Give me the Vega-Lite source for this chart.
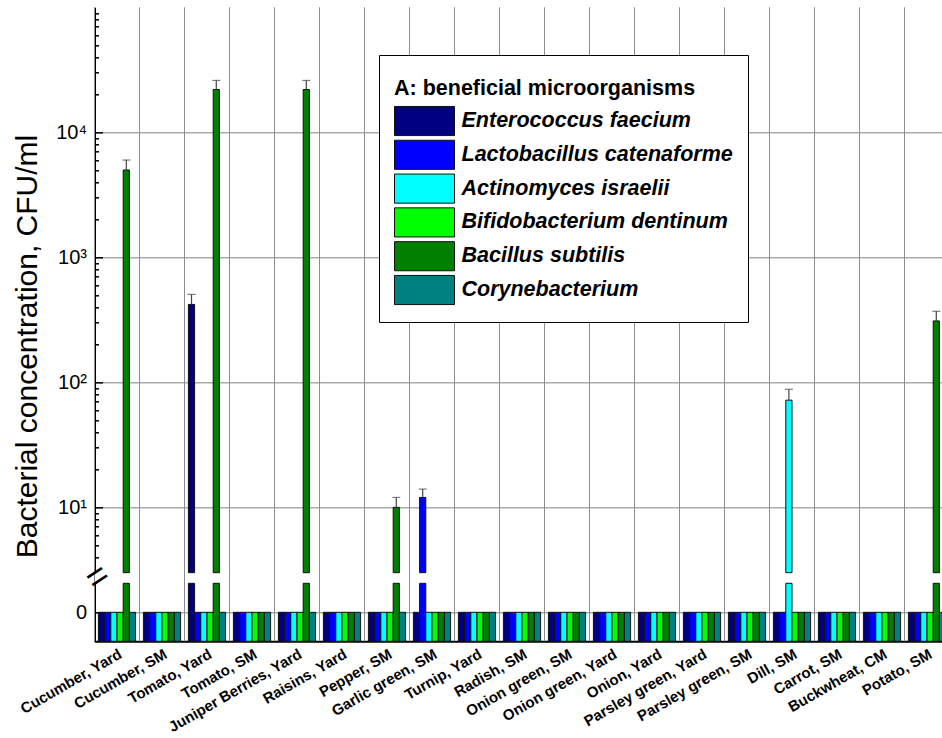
{
  "$schema": "https://vega.github.io/schema/vega-lite/v6.json",
  "width": 847.5,
  "height": 634,
  "autosize": {"type": "none"},
  "padding": {"left": 94.5, "top": 7.3, "right": 0, "bottom": 96.7},
  "background": "white",
  "config": {"view": {"stroke": null}, "font": "Liberation Sans"},
  "datasets": {
    "bars": [
      {"sample": "Cucumber, Yard", "organism": "Enterococcus faecium", "value": 0},
      {"sample": "Cucumber, Yard", "organism": "Lactobacillus catenaforme", "value": 0},
      {"sample": "Cucumber, Yard", "organism": "Actinomyces israelii", "value": 0},
      {"sample": "Cucumber, Yard", "organism": "Bifidobacterium dentinum", "value": 0},
      {"sample": "Cucumber, Yard", "organism": "Bacillus subtilis", "value": 5000, "upper": 6000},
      {"sample": "Cucumber, Yard", "organism": "Corynebacterium", "value": 0},
      {"sample": "Cucumber, SM", "organism": "Enterococcus faecium", "value": 0},
      {"sample": "Cucumber, SM", "organism": "Lactobacillus catenaforme", "value": 0},
      {"sample": "Cucumber, SM", "organism": "Actinomyces israelii", "value": 0},
      {"sample": "Cucumber, SM", "organism": "Bifidobacterium dentinum", "value": 0},
      {"sample": "Cucumber, SM", "organism": "Bacillus subtilis", "value": 0},
      {"sample": "Cucumber, SM", "organism": "Corynebacterium", "value": 0},
      {"sample": "Tomato, Yard", "organism": "Enterococcus faecium", "value": 420, "upper": 505},
      {"sample": "Tomato, Yard", "organism": "Lactobacillus catenaforme", "value": 0},
      {"sample": "Tomato, Yard", "organism": "Actinomyces israelii", "value": 0},
      {"sample": "Tomato, Yard", "organism": "Bifidobacterium dentinum", "value": 0},
      {"sample": "Tomato, Yard", "organism": "Bacillus subtilis", "value": 22000, "upper": 26000},
      {"sample": "Tomato, Yard", "organism": "Corynebacterium", "value": 0},
      {"sample": "Tomato, SM", "organism": "Enterococcus faecium", "value": 0},
      {"sample": "Tomato, SM", "organism": "Lactobacillus catenaforme", "value": 0},
      {"sample": "Tomato, SM", "organism": "Actinomyces israelii", "value": 0},
      {"sample": "Tomato, SM", "organism": "Bifidobacterium dentinum", "value": 0},
      {"sample": "Tomato, SM", "organism": "Bacillus subtilis", "value": 0},
      {"sample": "Tomato, SM", "organism": "Corynebacterium", "value": 0},
      {"sample": "Juniper Berries, Yard", "organism": "Enterococcus faecium", "value": 0},
      {"sample": "Juniper Berries, Yard", "organism": "Lactobacillus catenaforme", "value": 0},
      {"sample": "Juniper Berries, Yard", "organism": "Actinomyces israelii", "value": 0},
      {"sample": "Juniper Berries, Yard", "organism": "Bifidobacterium dentinum", "value": 0},
      {"sample": "Juniper Berries, Yard", "organism": "Bacillus subtilis", "value": 22000, "upper": 26000},
      {"sample": "Juniper Berries, Yard", "organism": "Corynebacterium", "value": 0},
      {"sample": "Raisins, Yard", "organism": "Enterococcus faecium", "value": 0},
      {"sample": "Raisins, Yard", "organism": "Lactobacillus catenaforme", "value": 0},
      {"sample": "Raisins, Yard", "organism": "Actinomyces israelii", "value": 0},
      {"sample": "Raisins, Yard", "organism": "Bifidobacterium dentinum", "value": 0},
      {"sample": "Raisins, Yard", "organism": "Bacillus subtilis", "value": 0},
      {"sample": "Raisins, Yard", "organism": "Corynebacterium", "value": 0},
      {"sample": "Pepper, SM", "organism": "Enterococcus faecium", "value": 0},
      {"sample": "Pepper, SM", "organism": "Lactobacillus catenaforme", "value": 0},
      {"sample": "Pepper, SM", "organism": "Actinomyces israelii", "value": 0},
      {"sample": "Pepper, SM", "organism": "Bifidobacterium dentinum", "value": 0},
      {"sample": "Pepper, SM", "organism": "Bacillus subtilis", "value": 10, "upper": 12},
      {"sample": "Pepper, SM", "organism": "Corynebacterium", "value": 0},
      {"sample": "Garlic green, SM", "organism": "Enterococcus faecium", "value": 0},
      {"sample": "Garlic green, SM", "organism": "Lactobacillus catenaforme", "value": 12, "upper": 14},
      {"sample": "Garlic green, SM", "organism": "Actinomyces israelii", "value": 0},
      {"sample": "Garlic green, SM", "organism": "Bifidobacterium dentinum", "value": 0},
      {"sample": "Garlic green, SM", "organism": "Bacillus subtilis", "value": 0},
      {"sample": "Garlic green, SM", "organism": "Corynebacterium", "value": 0},
      {"sample": "Turnip, Yard", "organism": "Enterococcus faecium", "value": 0},
      {"sample": "Turnip, Yard", "organism": "Lactobacillus catenaforme", "value": 0},
      {"sample": "Turnip, Yard", "organism": "Actinomyces israelii", "value": 0},
      {"sample": "Turnip, Yard", "organism": "Bifidobacterium dentinum", "value": 0},
      {"sample": "Turnip, Yard", "organism": "Bacillus subtilis", "value": 0},
      {"sample": "Turnip, Yard", "organism": "Corynebacterium", "value": 0},
      {"sample": "Radish, SM", "organism": "Enterococcus faecium", "value": 0},
      {"sample": "Radish, SM", "organism": "Lactobacillus catenaforme", "value": 0},
      {"sample": "Radish, SM", "organism": "Actinomyces israelii", "value": 0},
      {"sample": "Radish, SM", "organism": "Bifidobacterium dentinum", "value": 0},
      {"sample": "Radish, SM", "organism": "Bacillus subtilis", "value": 0},
      {"sample": "Radish, SM", "organism": "Corynebacterium", "value": 0},
      {"sample": "Onion green, SM", "organism": "Enterococcus faecium", "value": 0},
      {"sample": "Onion green, SM", "organism": "Lactobacillus catenaforme", "value": 0},
      {"sample": "Onion green, SM", "organism": "Actinomyces israelii", "value": 0},
      {"sample": "Onion green, SM", "organism": "Bifidobacterium dentinum", "value": 0},
      {"sample": "Onion green, SM", "organism": "Bacillus subtilis", "value": 0},
      {"sample": "Onion green, SM", "organism": "Corynebacterium", "value": 0},
      {"sample": "Onion green, Yard", "organism": "Enterococcus faecium", "value": 0},
      {"sample": "Onion green, Yard", "organism": "Lactobacillus catenaforme", "value": 0},
      {"sample": "Onion green, Yard", "organism": "Actinomyces israelii", "value": 0},
      {"sample": "Onion green, Yard", "organism": "Bifidobacterium dentinum", "value": 0},
      {"sample": "Onion green, Yard", "organism": "Bacillus subtilis", "value": 0},
      {"sample": "Onion green, Yard", "organism": "Corynebacterium", "value": 0},
      {"sample": "Onion, Yard", "organism": "Enterococcus faecium", "value": 0},
      {"sample": "Onion, Yard", "organism": "Lactobacillus catenaforme", "value": 0},
      {"sample": "Onion, Yard", "organism": "Actinomyces israelii", "value": 0},
      {"sample": "Onion, Yard", "organism": "Bifidobacterium dentinum", "value": 0},
      {"sample": "Onion, Yard", "organism": "Bacillus subtilis", "value": 0},
      {"sample": "Onion, Yard", "organism": "Corynebacterium", "value": 0},
      {"sample": "Parsley green, Yard", "organism": "Enterococcus faecium", "value": 0},
      {"sample": "Parsley green, Yard", "organism": "Lactobacillus catenaforme", "value": 0},
      {"sample": "Parsley green, Yard", "organism": "Actinomyces israelii", "value": 0},
      {"sample": "Parsley green, Yard", "organism": "Bifidobacterium dentinum", "value": 0},
      {"sample": "Parsley green, Yard", "organism": "Bacillus subtilis", "value": 0},
      {"sample": "Parsley green, Yard", "organism": "Corynebacterium", "value": 0},
      {"sample": "Parsley green, SM", "organism": "Enterococcus faecium", "value": 0},
      {"sample": "Parsley green, SM", "organism": "Lactobacillus catenaforme", "value": 0},
      {"sample": "Parsley green, SM", "organism": "Actinomyces israelii", "value": 0},
      {"sample": "Parsley green, SM", "organism": "Bifidobacterium dentinum", "value": 0},
      {"sample": "Parsley green, SM", "organism": "Bacillus subtilis", "value": 0},
      {"sample": "Parsley green, SM", "organism": "Corynebacterium", "value": 0},
      {"sample": "Dill, SM", "organism": "Enterococcus faecium", "value": 0},
      {"sample": "Dill, SM", "organism": "Lactobacillus catenaforme", "value": 0},
      {"sample": "Dill, SM", "organism": "Actinomyces israelii", "value": 72, "upper": 88},
      {"sample": "Dill, SM", "organism": "Bifidobacterium dentinum", "value": 0},
      {"sample": "Dill, SM", "organism": "Bacillus subtilis", "value": 0},
      {"sample": "Dill, SM", "organism": "Corynebacterium", "value": 0},
      {"sample": "Carrot, SM", "organism": "Enterococcus faecium", "value": 0},
      {"sample": "Carrot, SM", "organism": "Lactobacillus catenaforme", "value": 0},
      {"sample": "Carrot, SM", "organism": "Actinomyces israelii", "value": 0},
      {"sample": "Carrot, SM", "organism": "Bifidobacterium dentinum", "value": 0},
      {"sample": "Carrot, SM", "organism": "Bacillus subtilis", "value": 0},
      {"sample": "Carrot, SM", "organism": "Corynebacterium", "value": 0},
      {"sample": "Buckwheat, CM", "organism": "Enterococcus faecium", "value": 0},
      {"sample": "Buckwheat, CM", "organism": "Lactobacillus catenaforme", "value": 0},
      {"sample": "Buckwheat, CM", "organism": "Actinomyces israelii", "value": 0},
      {"sample": "Buckwheat, CM", "organism": "Bifidobacterium dentinum", "value": 0},
      {"sample": "Buckwheat, CM", "organism": "Bacillus subtilis", "value": 0},
      {"sample": "Buckwheat, CM", "organism": "Corynebacterium", "value": 0},
      {"sample": "Potato, SM", "organism": "Enterococcus faecium", "value": 0},
      {"sample": "Potato, SM", "organism": "Lactobacillus catenaforme", "value": 0},
      {"sample": "Potato, SM", "organism": "Actinomyces israelii", "value": 0},
      {"sample": "Potato, SM", "organism": "Bifidobacterium dentinum", "value": 0},
      {"sample": "Potato, SM", "organism": "Bacillus subtilis", "value": 310, "upper": 370},
      {"sample": "Potato, SM", "organism": "Corynebacterium", "value": 0}
    ]
  },
  "data": {"name": "bars"},
  "layer": [
    {
      "transform": [{"filter": "datum.organism == 'Enterococcus faecium'"}],
      "mark": {"type": "rule", "color": "#8c8c8c", "strokeWidth": 1},
      "encoding": {
        "x": {
          "field": "sample", "type": "nominal", "bandPosition": 0,
          "scale": {"domain": ["Cucumber, Yard","Cucumber, SM","Tomato, Yard","Tomato, SM","Juniper Berries, Yard","Raisins, Yard","Pepper, SM","Garlic green, SM","Turnip, Yard","Radish, SM","Onion green, SM","Onion green, Yard","Onion, Yard","Parsley green, Yard","Parsley green, SM","Dill, SM","Carrot, SM","Buckwheat, CM","Potato, SM"], "range": [0, 855], "paddingInner": 0, "paddingOuter": 0},
          "axis": {"orient": "bottom", "grid": false, "ticks": false, "domainColor": "black", "domainWidth": 2, "labelAngle": -30, "labelAlign": "right", "labelBaseline": "top", "labelFontSize": 15, "labelFontWeight": "bold", "labelColor": "black", "labelPadding": 5, "labelLimit": 300, "labelOverlap": false, "title": null}
        }
      }
    },
    {
      "transform": [{"filter": "datum.value > 0"}],
      "layer": [
        {
          "mark": {"type": "bar", "stroke": "#111111", "strokeWidth": 1},
          "encoding": {
            "x": {
              "field": "sample", "type": "nominal",
              "axis": {"orient": "top", "labels": false, "ticks": true, "tickSize": -4, "tickColor": "black", "tickWidth": 1.5, "domainColor": "black", "domainWidth": 2, "grid": false, "title": null}
            },
            "xOffset": {"field": "organism", "type": "nominal", "scale": {"domain": ["Enterococcus faecium","Lactobacillus catenaforme","Actinomyces israelii","Bifidobacterium dentinum","Bacillus subtilis","Corynebacterium"], "paddingOuter": 0.63, "paddingInner": 0}},
            "y": {
              "field": "value", "type": "quantitative",
              "scale": {"type": "log", "domain": [3, 100000], "range": [565.4, 0], "clamp": true, "nice": false},
              "axis": {
                "orient": "left",
                "values": [4,5,6,7,8,9,10,20,30,40,50,60,70,80,90,100,200,300,400,500,600,700,800,900,1000,2000,3000,4000,5000,6000,7000,8000,9000,10000,20000,30000,40000,50000,60000,70000,80000,90000],
                "labelExpr": "datum.value == 10 ? '10¹' : datum.value == 100 ? '10²' : datum.value == 1000 ? '10³' : datum.value == 10000 ? '10⁴' : ''",
                "labelFontSize": 20, "labelColor": "black", "labelPadding": 16, "labelOverlap": false,
                "tickColor": "black", "tickWidth": 1.5,
                "tickSize": {"condition": {"test": "indexof([10,100,1000,10000], datum.value) >= 0", "value": -8}, "value": -4},
                "grid": true, "gridColor": "#aaaaaa", "gridWidth": 1.5,
                "gridOpacity": {"condition": {"test": "indexof([10,100,1000,10000], datum.value) >= 0", "value": 1}, "value": 0},
                "domainColor": "black", "domainWidth": 2,
                "title": "Bacterial concentration, CFU/ml", "titleFontSize": 30, "titleFontWeight": "normal", "titleColor": "black",
                "titleX": -58.5, "titleY": 338.7, "titleAngle": -90, "titleBaseline": "alphabetic", "titleAlign": "center"
              }
            },
            "y2": {"datum": 3},
            "fill": {
              "field": "organism", "type": "nominal",
              "scale": {"domain": ["Enterococcus faecium","Lactobacillus catenaforme","Actinomyces israelii","Bifidobacterium dentinum","Bacillus subtilis","Corynebacterium"], "range": ["#000080","#0000ff","#00ffff","#00ff00","#008000","#008080"]},
              "legend": {
                "orient": "none", "legendX": 284.5, "legendY": 47.7,
                "title": ["", "A: beneficial microorganisms"], "titleLineHeight": 8, "titleFontSize": 21.5, "titleFontWeight": "bold", "titleColor": "black", "titlePadding": 6, "titleLimit": 500,
                "labelFontSize": 21.5, "labelFontStyle": "italic", "labelFontWeight": "bold", "labelColor": "black", "labelLimit": 400, "labelOffset": 36.5,
                "symbolType": "M-1,-0.97H3V0.97H-1Z", "symbolSize": 900, "symbolStrokeColor": "#111111", "symbolStrokeWidth": 1, "symbolOpacity": 1,
                "rowPadding": -1.2, "padding": 15, "strokeColor": "black", "fillColor": "white"
              }
            }
          }
        },
        {
          "transform": [{"filter": "isValid(datum.upper)"}],
          "mark": {"type": "rule", "color": "#444444", "strokeWidth": 1.2},
          "encoding": {
            "x": {"field": "sample", "type": "nominal", "axis": null},
            "xOffset": {"field": "organism", "type": "nominal"},
            "y": {"field": "value", "type": "quantitative"},
            "y2": {"field": "upper"}
          }
        },
        {
          "transform": [{"filter": "isValid(datum.upper)"}],
          "mark": {"type": "tick", "color": "#444444", "thickness": 1.2, "size": 8},
          "encoding": {
            "x": {"field": "sample", "type": "nominal", "axis": null},
            "xOffset": {"field": "organism", "type": "nominal"},
            "y": {"field": "upper", "type": "quantitative"}
          }
        },
        {
          "transform": [{"filter": "datum.sample == 'Cucumber, Yard'"}],
          "mark": {"type": "text", "text": "=", "fontSize": 36, "angle": -33.7, "align": "center", "baseline": "middle", "color": "black", "dy": 5.6},
          "encoding": {
            "x": {"datum": "Cucumber, Yard", "type": "nominal", "bandPosition": 0, "axis": null},
            "y": {"datum": 3, "type": "quantitative"}
          }
        }
      ]
    },
    {
      "mark": {"type": "bar", "stroke": "#111111", "strokeWidth": 1},
      "encoding": {
        "x": {"field": "sample", "type": "nominal", "axis": null},
        "xOffset": {"field": "organism", "type": "nominal"},
        "y": {
          "field": "value", "type": "quantitative",
          "scale": {"domain": [-1, 1], "range": [634, 576], "clamp": true, "nice": false, "zero": false},
          "axis": {"orient": "left", "values": [0], "labelFontSize": 20, "labelColor": "black", "labelPadding": 16, "tickColor": "black", "tickWidth": 1.5, "tickSize": -8, "grid": true, "gridColor": "#aaaaaa", "gridWidth": 1.5, "domainColor": "black", "domainWidth": 2, "title": null}
        },
        "y2": {"datum": -1},
        "fill": {"field": "organism", "type": "nominal", "legend": null}
      }
    }
  ],
  "resolve": {"scale": {"y": "independent"}, "axis": {"x": "independent"}}
}
